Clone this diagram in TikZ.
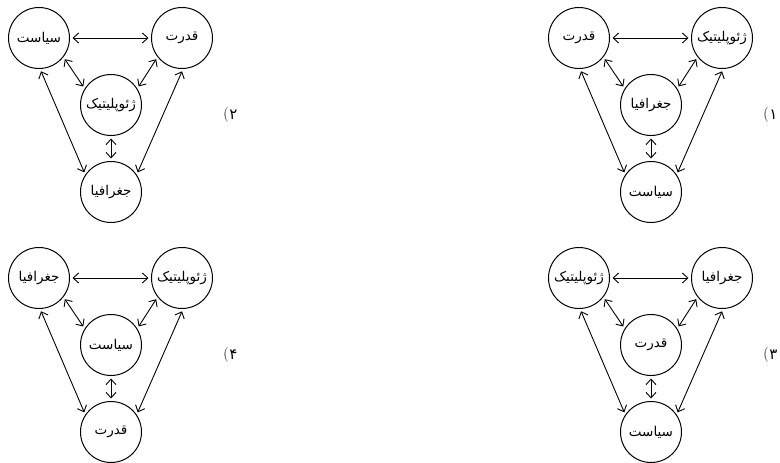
\documentclass[tikz,border=0pt]{standalone}
\usepackage{fontspec}
\newfontfamily\arabicfont[Script=Arabic]{DejaVu Sans}
\TeXXeTstate=1
\usetikzlibrary{arrows.meta}
\newcommand{\tridiagram}[8]{%
  \begin{scope}[shift={(#2,#3)}]
    \node[circ] (#1l) at (0,0) {\beginR #4\endR};
    \node[circ] (#1r) at (143,0) {\beginR #5\endR};
    \node[circ] (#1m) at (72,67) {\beginR #6\endR};
    \node[circ] (#1b) at (72,154) {\beginR #7\endR};
    \node[lab] (#1n) at (194.5,77) {\arabicfont #8};
    \node[lab,anchor=east] (#1p) at ([xshift=-0.5pt]#1n.west) {(};
    \draw[link] (#1l.east) -- (#1r.west);
    \draw[link] (#1l.-38) -- (#1m.148);
    \draw[link] (#1r.-142) -- (#1m.32);
    \draw[link] (#1m.south) -- (#1b.north);
    \draw[link] (#1l.-88) -- (#1b.146);
    \draw[link] (#1r.-88) -- (#1b.34);
  \end{scope}}
\begin{document}
\begin{tikzpicture}[x=1pt,y=-1pt,
  circ/.style={circle,draw,line width=1pt,minimum size=61pt,inner sep=0pt,
    font=\arabicfont\fontsize{13.5}{15}\selectfont},
  link/.style={line width=0.9pt,
    {Straight Barb[length=5.5pt,width=10pt]}-{Straight Barb[length=5.5pt,width=10pt]},
    shorten <=2.5pt,shorten >=2.5pt},
  lab/.style={font=\fontsize{15}{17}\selectfont,inner sep=0pt}
]
\useasboundingbox (0,0) rectangle (780,463);
\tridiagram{a}{579}{38}{قدرت}{ژئوپلیتیک}{جغرافیا}{سیاست}{۱}
\tridiagram{b}{39}{38}{سیاست}{قدرت}{ژئوپلیتیک}{جغرافیا}{۲}
\tridiagram{c}{579}{278}{ژئوپلیتیک}{جغرافیا}{قدرت}{سیاست}{۳}
\tridiagram{d}{39}{278}{جغرافیا}{ژئوپلیتیک}{سیاست}{قدرت}{۴}
\end{tikzpicture}
\end{document}
